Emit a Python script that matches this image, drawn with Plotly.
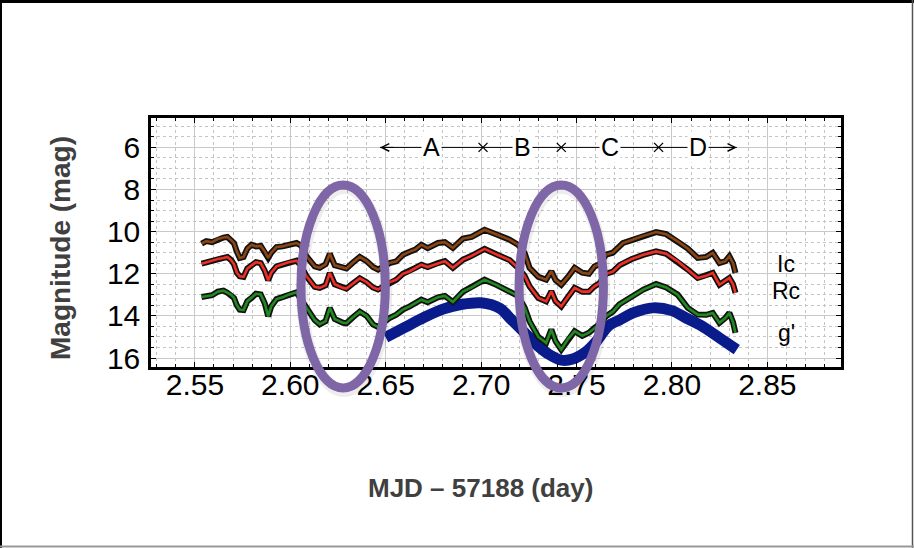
import plotly.graph_objects as go

# Light curves: time (MJD - 57188) and magnitudes in three bands
t = [2.5535, 2.5560, 2.5590, 2.5620, 2.5650, 2.5670, 2.5690, 2.5705, 2.5720, 2.5735,
     2.5755, 2.5775, 2.5797, 2.5820, 2.5845, 2.5866, 2.5884, 2.5900, 2.5928, 2.5960,
     2.5990, 2.6033, 2.6055, 2.6085, 2.6128, 2.6154, 2.6185, 2.6207, 2.6233, 2.6276,
     2.6294, 2.6330, 2.6364, 2.6400, 2.6433, 2.6460, 2.6490, 2.6520, 2.6556, 2.6590,
     2.6626, 2.6655, 2.6687, 2.6720, 2.6774, 2.6810, 2.6852, 2.6905, 2.6950, 2.7018,
     2.7085, 2.7149, 2.7193, 2.7228, 2.7254, 2.7300, 2.7341, 2.7368, 2.7390, 2.7420,
     2.7455, 2.7490, 2.7530, 2.7565, 2.7594, 2.7620, 2.7656, 2.7690, 2.7725, 2.7743,
     2.7790, 2.7850, 2.7917, 2.7970, 2.8030, 2.8083, 2.8135, 2.8180, 2.8214, 2.8249,
     2.8280, 2.8301, 2.8320, 2.8333]
ic = [10.57, 10.45, 10.50, 10.35, 10.28, 10.25, 10.40, 10.55, 10.95, 11.25,
      11.20, 10.80, 10.62, 10.70, 10.68, 10.94, 11.25, 11.00, 10.73, 10.70,
      10.62, 10.54, 10.65, 11.17, 11.65, 11.72, 11.55, 11.05, 11.60, 11.68,
      11.75, 11.45, 11.20, 11.40, 11.68, 11.80, 11.65, 11.49, 11.41, 11.10,
      10.95, 10.85, 10.62, 10.78, 10.54, 10.50, 10.77, 10.33, 10.25, 9.91,
      10.15, 10.38, 10.62, 11.01, 11.72, 12.15, 12.28, 11.88, 12.30, 12.52,
      12.15, 11.72, 11.95, 12.00, 11.65, 11.55, 11.09, 11.00, 10.70, 10.54,
      10.40, 10.20, 10.02, 10.12, 10.46, 10.80, 11.25, 11.20, 11.01, 11.49,
      11.40, 11.17, 11.50, 11.96]
rc = [11.52, 11.45, 11.40, 11.30, 11.25, 11.20, 11.35, 11.55, 11.95, 12.12,
      12.15, 11.75, 11.60, 11.45, 11.50, 11.85, 12.31, 11.95, 11.65, 11.55,
      11.45, 11.38, 11.60, 12.12, 12.62, 12.67, 12.55, 11.96, 12.50, 12.67,
      12.70, 12.45, 12.22, 12.40, 12.65, 12.75, 12.58, 12.40, 12.28, 12.00,
      11.88, 11.72, 11.57, 11.68, 11.49, 11.40, 11.72, 11.33, 11.15, 10.82,
      11.10, 11.35, 11.72, 12.10, 12.60, 13.15, 13.31, 12.83, 13.30, 13.55,
      13.10, 12.67, 12.85, 12.85, 12.60, 12.45, 12.00, 11.90, 11.60, 11.50,
      11.30, 11.10, 10.94, 11.05, 11.41, 11.80, 12.20, 12.10, 11.96, 12.52,
      12.35, 12.20, 12.50, 12.91]
gp = [13.10, 13.05, 13.02, 12.85, 12.80, 12.90, 13.00, 13.15, 13.50, 13.70,
      13.72, 13.30, 13.15, 12.95, 12.98, 13.40, 14.02, 13.55, 13.20, 13.12,
      13.00, 12.88, 13.20, 13.62, 14.20, 14.40, 14.25, 13.62, 14.15, 14.33,
      14.35, 14.05, 13.80, 14.00, 14.40, 14.53, 14.30, 14.10, 13.94, 13.70,
      13.55, 13.40, 13.23, 13.35, 13.12, 13.05, 13.34, 12.85, 12.65, 12.28,
      12.55, 12.85, 13.05, 13.60, 14.26, 15.00, 15.28, 14.65, 15.20, 15.60,
      15.10, 14.73, 14.95, 14.80, 14.57, 14.40, 14.00, 13.80, 13.45, 13.35,
      13.05, 12.75, 12.49, 12.65, 12.99, 13.62, 13.94, 13.95, 13.86, 14.33,
      14.10, 13.86, 14.30, 14.81]

# Smooth model curve
model_t = [2.650, 2.660, 2.670, 2.680, 2.690, 2.700, 2.710, 2.715, 2.720, 2.725,
           2.730, 2.735, 2.742, 2.748, 2.755, 2.760, 2.767, 2.7725, 2.780, 2.790,
           2.800, 2.8074, 2.815, 2.825, 2.834]
model_mag = [15.02, 14.55, 14.08, 13.68, 13.45, 13.38, 13.65, 14.10, 14.55, 15.00,
             15.45, 15.80, 16.10, 16.05, 15.70, 15.25, 14.45, 14.20, 13.85, 13.62,
             13.75, 14.10, 14.45, 15.05, 15.60]

# Phase intervals along the top
phase_edges = [2.647, 2.701, 2.742, 2.793, 2.834]
phase_labels = ["A", "B", "C", "D"]
phase_mag = 6.0

# Highlighted intervals (centre time, centre mag, half extents)
ellipse_t = [2.6277, 2.742]
ellipse_mag = 12.6
ellipse_half_t = 0.0221
ellipse_half_mag = 4.82

band_labels = ["Ic", "Rc", "g'"]
band_label_t = [2.8598, 2.8598, 2.8598]
band_label_mag = [11.55, 12.80, 14.80]

x_ticks = [2.55, 2.60, 2.65, 2.70, 2.75, 2.80, 2.85]
y_ticks = [6, 8, 10, 12, 14, 16]

X_RANGE = [2.527, 2.8886]
Y_RANGE = [16.427, 4.604]

W, H = 914, 548
ML, MR, MT, MB = 151, 73, 118, 181
PW, PH = W - ML - MR, H - MT - MB

FONT = "Liberation Sans, Arial, Helvetica, sans-serif"


def to_paper(tv, mv):
    px = (tv - X_RANGE[0]) / (X_RANGE[1] - X_RANGE[0])
    py = (Y_RANGE[0] - mv) / (Y_RANGE[0] - Y_RANGE[1])
    return px, py


def pix_x(px):
    return (px - ML) / PW


def pix_y(py):
    return (H - MB - py) / PH


fig = go.Figure()

# model curve
fig.add_trace(go.Scatter(x=model_t, y=model_mag, mode="lines",
                         line=dict(color="#0a1c8c", width=11, shape="spline"),
                         hoverinfo="skip"))

# light curves with dark outline
for mags, col in [(ic, "#8b4513"), (rc, "#ee2f25"), (gp, "#208a20")]:
    fig.add_trace(go.Scatter(x=t, y=mags, mode="lines",
                             line=dict(color="#111111", width=6),
                             hoverinfo="skip"))
    fig.add_trace(go.Scatter(x=t, y=mags, mode="lines",
                             line=dict(color=col, width=2.6),
                             hoverinfo="skip"))

# phase line with separators
fig.add_trace(go.Scatter(x=[phase_edges[0], phase_edges[-1]], y=[phase_mag, phase_mag],
                         mode="lines", line=dict(color="black", width=1),
                         hoverinfo="skip"))
fig.add_trace(go.Scatter(x=phase_edges[1:-1], y=[phase_mag] * (len(phase_edges) - 2),
                         mode="markers",
                         marker=dict(symbol="x-thin", size=9, color="black",
                                     line=dict(color="black", width=1.3)),
                         hoverinfo="skip"))

annotations = []
for i, lab in enumerate(phase_labels):
    mid = (phase_edges[i] + phase_edges[i + 1]) / 2
    annotations.append(dict(x=mid, y=phase_mag, xref="x", yref="y", text=lab,
                            showarrow=False, bgcolor="white", borderpad=1,
                            font=dict(family=FONT, size=25, color="black"),
                            xanchor="center", yanchor="middle"))
for edge, back in [(phase_edges[0], 0.008), (phase_edges[-1], -0.008)]:
    annotations.append(dict(x=edge, y=phase_mag, xref="x", yref="y",
                            ax=edge + back, ay=phase_mag, axref="x", ayref="y",
                            text="", showarrow=True, arrowhead=5, arrowsize=1.5,
                            arrowwidth=1, arrowcolor="black"))
for lab, bt, bm in zip(band_labels, band_label_t, band_label_mag):
    annotations.append(dict(x=bt, y=bm, xref="x", yref="y", text=lab,
                            showarrow=False,
                            font=dict(family=FONT, size=23, color="black"),
                            xanchor="center", yanchor="middle"))

# axis titles
annotations.append(dict(x=pix_x(480), y=pix_y(488), xref="paper", yref="paper",
                        text="<b>MJD \u2013 57188 (day)</b>", showarrow=False,
                        font=dict(family=FONT, size=26, color="#404040"),
                        xanchor="center", yanchor="middle"))
annotations.append(dict(x=pix_x(60), y=pix_y(248), xref="paper", yref="paper",
                        text="<b>Magnitude (mag)</b>", showarrow=False, textangle=-90,
                        font=dict(family=FONT, size=28, color="#404040"),
                        xanchor="center", yanchor="middle"))

shapes = []
# highlight ellipses with a faint shadow
for ct in ellipse_t:
    x0, y0 = to_paper(ct - ellipse_half_t, ellipse_mag + ellipse_half_mag)
    x1, y1 = to_paper(ct + ellipse_half_t, ellipse_mag - ellipse_half_mag)
    sdx, sdy = 1 / PW, -3 / PH
    shapes.append(dict(type="circle", xref="paper", yref="paper",
                       x0=x0 + sdx, x1=x1 + sdx, y0=y0 + sdy, y1=y1 + sdy,
                       line=dict(color="rgba(0,0,0,0.07)", width=12), layer="above"))
    shapes.append(dict(type="circle", xref="paper", yref="paper",
                       x0=x0, x1=x1, y0=y0, y1=y1,
                       line=dict(color="#7f66a6", width=9), layer="above"))

# outer frame of the figure
shapes.append(dict(type="line", xref="paper", yref="paper", x0=pix_x(0), x1=pix_x(W),
                   y0=pix_y(1.5), y1=pix_y(1.5), line=dict(color="black", width=3)))
shapes.append(dict(type="line", xref="paper", yref="paper", x0=pix_x(1), x1=pix_x(1),
                   y0=pix_y(0), y1=pix_y(H), line=dict(color="black", width=2)))
shapes.append(dict(type="line", xref="paper", yref="paper", x0=pix_x(912.5), x1=pix_x(912.5),
                   y0=pix_y(0), y1=pix_y(H), line=dict(color="#555555", width=1.5)))
shapes.append(dict(type="line", xref="paper", yref="paper", x0=pix_x(0), x1=pix_x(W),
                   y0=pix_y(546.5), y1=pix_y(546.5), line=dict(color="#999999", width=2)))

axis_common = dict(
    showgrid=True, gridcolor="#c9c9c9", gridwidth=1,
    ticks="inside", ticklen=5, tickcolor="black", tickwidth=1,
    showline=True, linecolor="black", linewidth=2.5, mirror="allticks",
    zeroline=False,
    tickfont=dict(family=FONT, size=30, color="black"),
)

fig.update_layout(
    width=W, height=H,
    margin=dict(l=ML, r=MR, t=MT, b=MB),
    paper_bgcolor="white", plot_bgcolor="white",
    showlegend=False,
    xaxis=dict(range=X_RANGE, tickvals=x_ticks,
               ticktext=["%.2f" % v for v in x_ticks],
               ticklabelstandoff=-11,
               minor=dict(dtick=0.01, tick0=2.55, ticks="inside", ticklen=3,
                          tickcolor="black", showgrid=True, gridcolor="#c4c4c4",
                          griddash="dot", gridwidth=1),
               **axis_common),
    yaxis=dict(range=Y_RANGE, tickvals=y_ticks,
               ticklabelstandoff=2,
               minor=dict(dtick=0.5, tick0=6, ticks="inside", ticklen=3,
                          tickcolor="black", showgrid=True, gridcolor="#c4c4c4",
                          griddash="dot", gridwidth=1),
               **axis_common),
    annotations=annotations,
    shapes=shapes,
)

fig.write_html("out.html")
